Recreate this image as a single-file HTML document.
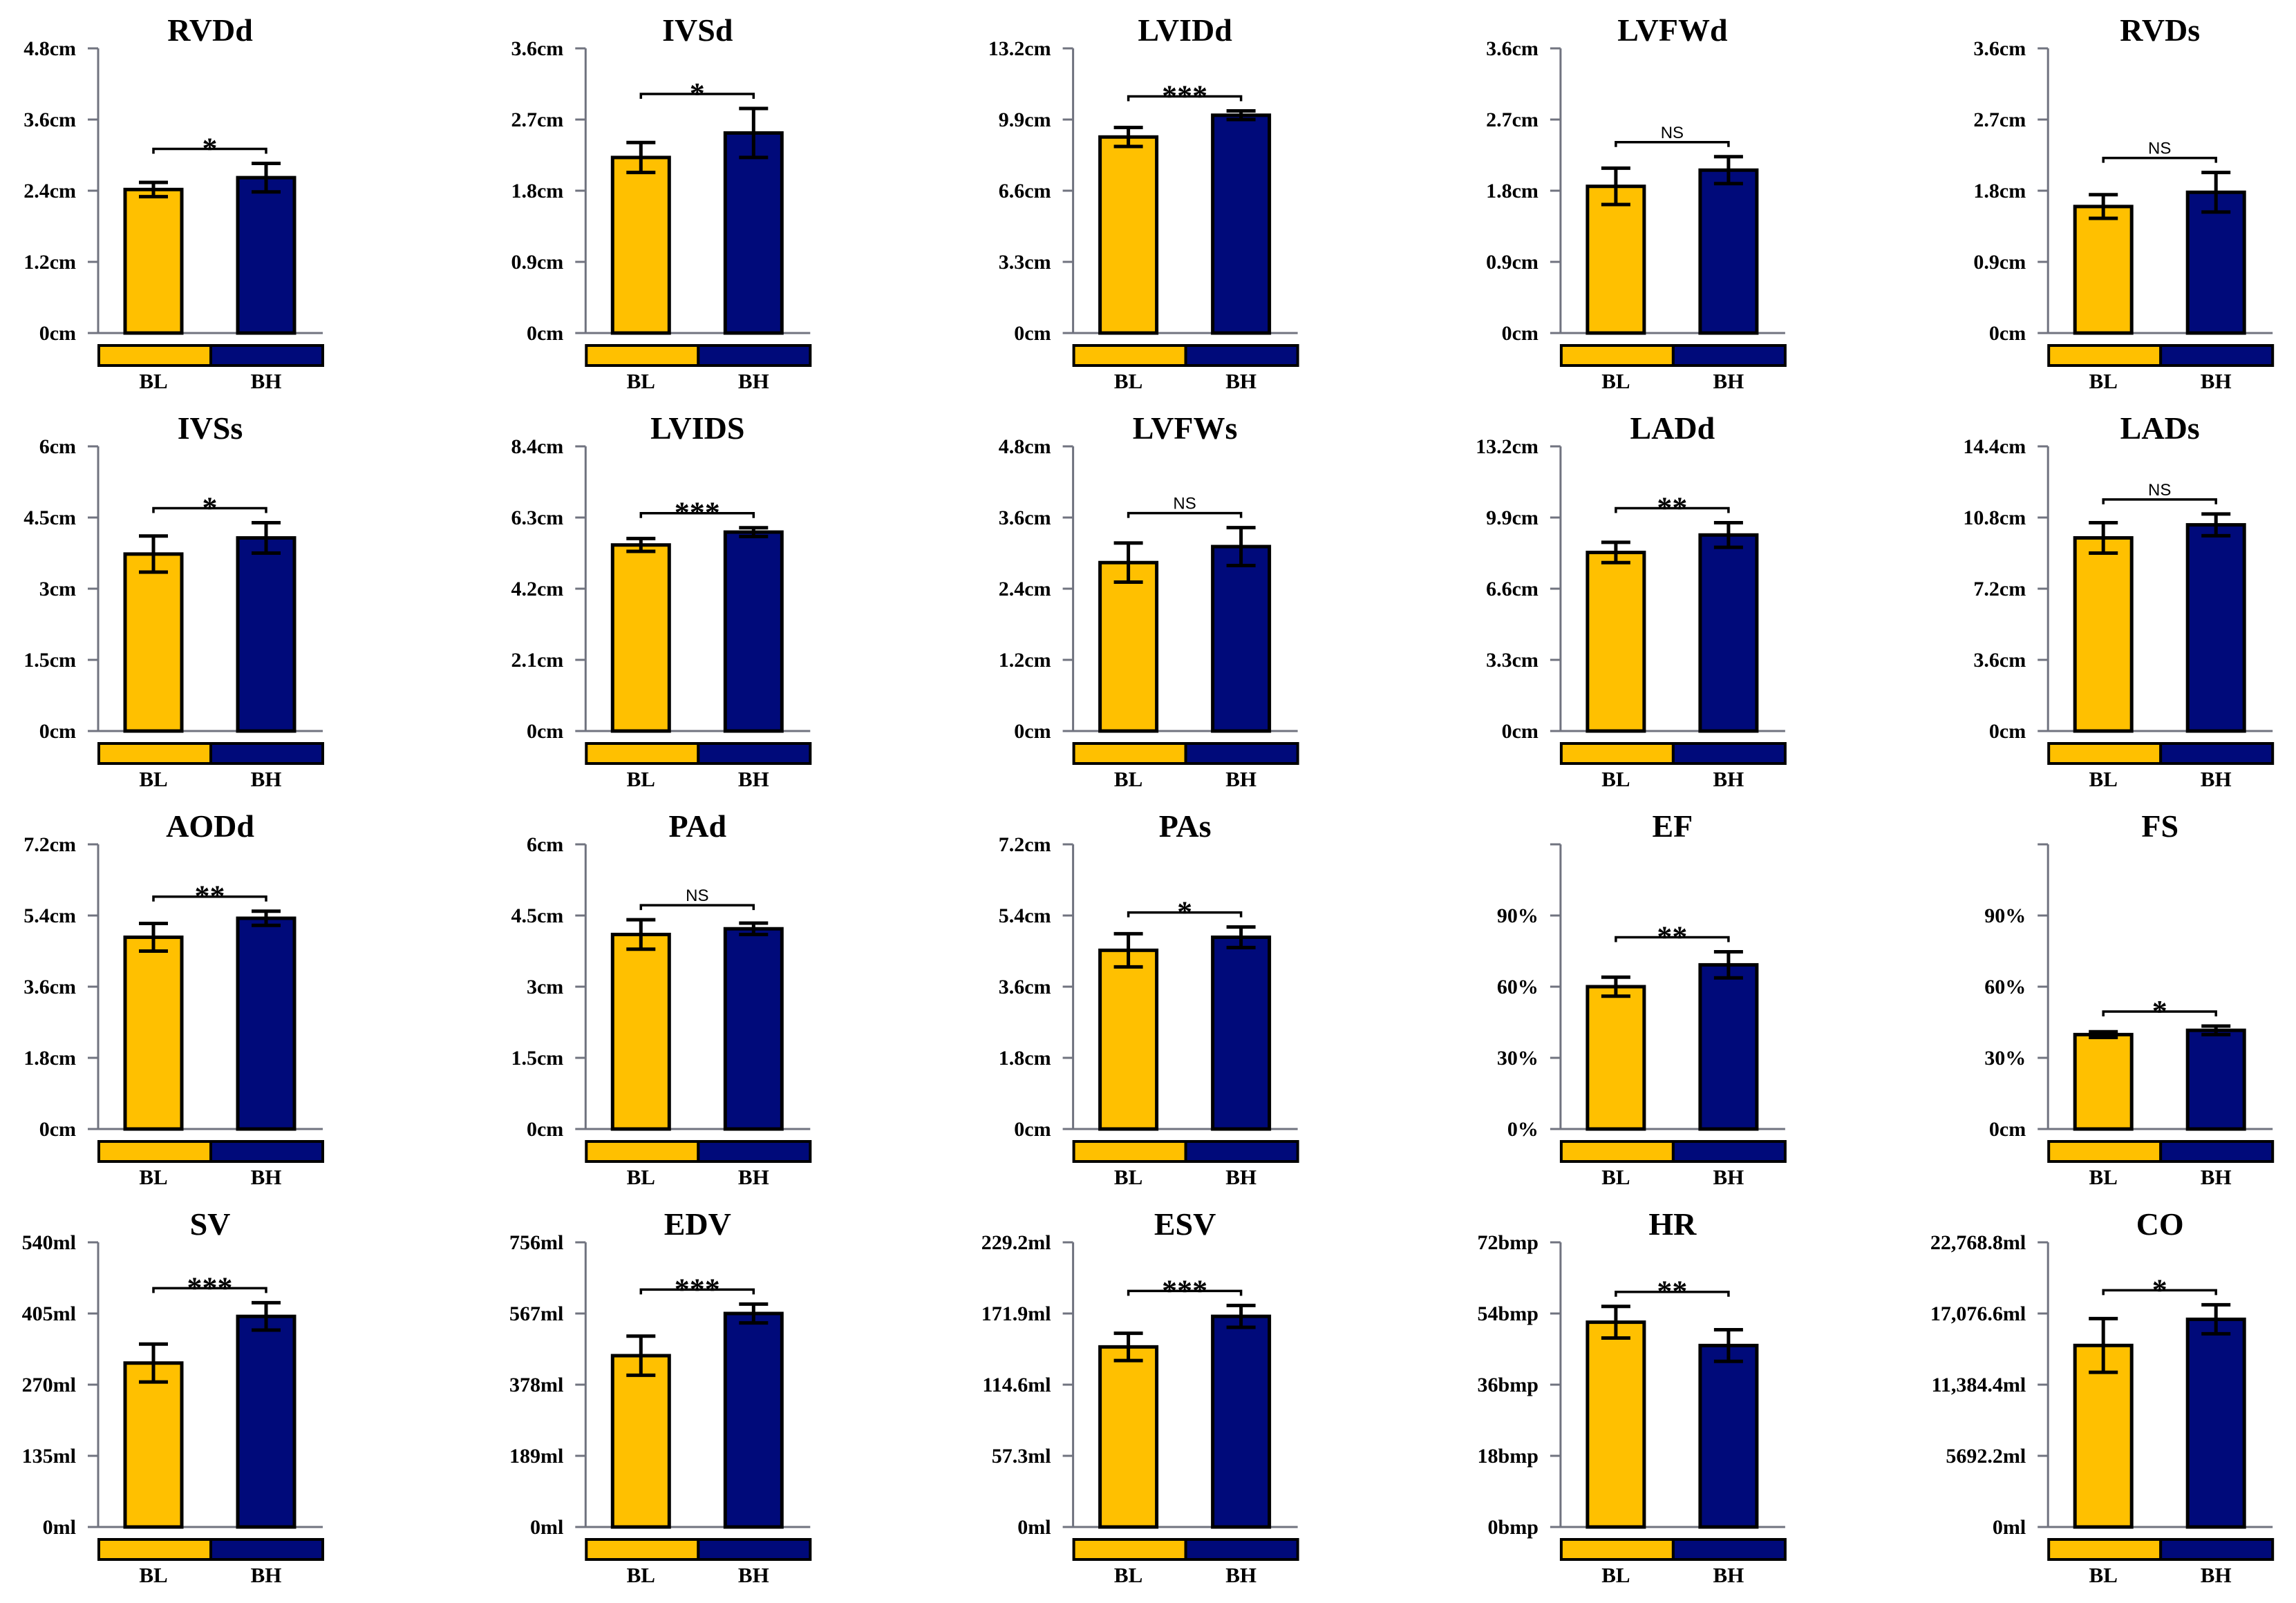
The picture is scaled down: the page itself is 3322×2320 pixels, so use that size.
<!DOCTYPE html>
<html><head><meta charset="utf-8">
<style>
html,body{margin:0;padding:0;background:#fff;}
svg{display:block;}
text{font-family:"Liberation Serif",serif;font-weight:bold;fill:#000;}
</style></head>
<body>
<svg id="chart" width="3322" height="2320" viewBox="0 0 3322 2320" xmlns="http://www.w3.org/2000/svg"></svg>
<script>
const titles=["RVDd","IVSd","LVIDd","LVFWd","RVDs","IVSs","LVIDS","LVFWs","LADd","LADs","AODd","PAd","PAs","EF","FS","SV","EDV","ESV","HR","CO"];
const axisMax=[4.8,3.6,13.2,3.6,3.6,6,8.4,4.8,13.2,14.4,7.2,6,7.2,120,120,540,756,229.2,72,22768.8];
const tickLabels=[
["0cm","1.2cm","2.4cm","3.6cm","4.8cm"],["0cm","0.9cm","1.8cm","2.7cm","3.6cm"],["0cm","3.3cm","6.6cm","9.9cm","13.2cm"],["0cm","0.9cm","1.8cm","2.7cm","3.6cm"],["0cm","0.9cm","1.8cm","2.7cm","3.6cm"],
["0cm","1.5cm","3cm","4.5cm","6cm"],["0cm","2.1cm","4.2cm","6.3cm","8.4cm"],["0cm","1.2cm","2.4cm","3.6cm","4.8cm"],["0cm","3.3cm","6.6cm","9.9cm","13.2cm"],["0cm","3.6cm","7.2cm","10.8cm","14.4cm"],
["0cm","1.8cm","3.6cm","5.4cm","7.2cm"],["0cm","1.5cm","3cm","4.5cm","6cm"],["0cm","1.8cm","3.6cm","5.4cm","7.2cm"],["0%","30%","60%","90%",""],["0cm","30%","60%","90%",""],
["0ml","135ml","270ml","405ml","540ml"],["0ml","189ml","378ml","567ml","756ml"],["0ml","57.3ml","114.6ml","171.9ml","229.2ml"],["0bmp","18bmp","36bmp","54bmp","72bmp"],["0ml","5692.2ml","11,384.4ml","17,076.6ml","22,768.8ml"]];
const blMean=[2.42,2.22,9.09,1.855,1.6,3.73,5.49,2.84,8.28,9.77,4.85,4.1,4.52,60,39.8,311,455,145,51.8,14520];
const blErr=[0.12,0.19,0.44,0.23,0.15,0.38,0.19,0.33,0.47,0.77,0.35,0.31,0.42,4,1.2,36,52,11,4,2150];
const bhMean=[2.62,2.53,10.1,2.06,1.78,4.07,5.87,3.11,9.09,10.43,5.33,4.22,4.85,69.2,41.6,399.5,567,169.6,45.9,16611];
const bhErr=[0.24,0.31,0.2,0.17,0.25,0.32,0.13,0.32,0.57,0.55,0.18,0.12,0.26,5.5,1.8,26,25,8.8,4,1160];
const sig=["*","*","***","NS","NS","*","***","NS","**","NS","**","NS","*","**","*","***","***","***","**","*"];
const groups=["BL","BH"];
const colors=["#FFC000","#000A7A"];

const svg=document.getElementById('chart');
const NS='http://www.w3.org/2000/svg';
function mk(tag,attrs,parent){const e=document.createElementNS(NS,tag);for(const k in attrs)e.setAttribute(k,attrs[k]);parent.appendChild(e);return e;}

const plotH=412;
titles.forEach((t,i)=>{
  const c=i%5,r=Math.floor(i/5);
  const ax=142+c*705.3, zy=482+r*576, topY=zy-plotH;
  const g=mk('g',{},svg);
  
  
  const y=v=>zy-v/axisMax[i]*plotH;
  const tt=mk('text',{x:ax+162,y:topY-11,'text-anchor':'middle','font-size':46},g);tt.textContent=t;
  
  
  // axis
  const al=mk('line',{x1:ax,y1:topY,x2:ax,y2:zy,stroke:'#70737f','stroke-width':3},g);
  
  
  const bl=mk('line',{x1:ax-15,y1:zy,x2:ax+325,y2:zy,stroke:'#70737f','stroke-width':3},g);
  
  
  tickLabels[i].forEach((lab,k)=>{
    const ty=y(axisMax[i]*k/4);
    if(k>0){const tk=mk('line',{x1:ax-15,y1:ty,x2:ax,y2:ty,stroke:'#70737f','stroke-width':3},g);
      
      }
    const tl=mk('text',{x:ax-32,y:ty+10,'text-anchor':'end','font-size':30},g);tl.textContent=lab;
    
    
  });
  const means=[blMean[i],bhMean[i]], errs=[blErr[i],bhErr[i]];
  const cx=[ax+80,ax+243];
  means.forEach((m,k)=>{
    const b=mk('rect',{x:cx[k]-41,y:y(m),width:82,height:zy-y(m),fill:colors[k],stroke:'#000','stroke-width':5},g);
    
    
    const e=mk('path',{d:`M${cx[k]} ${y(m+errs[k])}V${y(m-errs[k])}M${cx[k]-21} ${y(m+errs[k])}H${cx[k]+21}M${cx[k]-21} ${y(m-errs[k])}H${cx[k]+21}`,stroke:'#000','stroke-width':5,fill:'none'},g);
    
    
  });
  const by=Math.min(y(means[0]+errs[0]),y(means[1]+errs[1]))-21;
  const br=mk('path',{d:`M${cx[0]} ${by+7}V${by}H${cx[1]}V${by+7}`,stroke:'#000','stroke-width':3.5,fill:'none'},g);
  
  
  const isNS=sig[i]==='NS';
  const st=mk('text',{x:(cx[0]+cx[1])/2,y:isNS?by-6:by+14,'text-anchor':'middle','font-size':isNS?24:44},g);
  if(isNS){st.setAttribute('style','font-family:"Liberation Sans",sans-serif;font-weight:normal');}
  st.textContent=sig[i];
  
  
  // legend strip
  groups.forEach((gname,k)=>{
    const lr=mk('rect',{x:ax+1+k*162,y:zy+18,width:162,height:29,fill:colors[k],stroke:'#000','stroke-width':4},g);
    
    
    const lt=mk('text',{x:cx[k],y:zy+80,'text-anchor':'middle','font-size':31},g);lt.textContent=gname;
    
    
  });
});
</script>
</body></html>
